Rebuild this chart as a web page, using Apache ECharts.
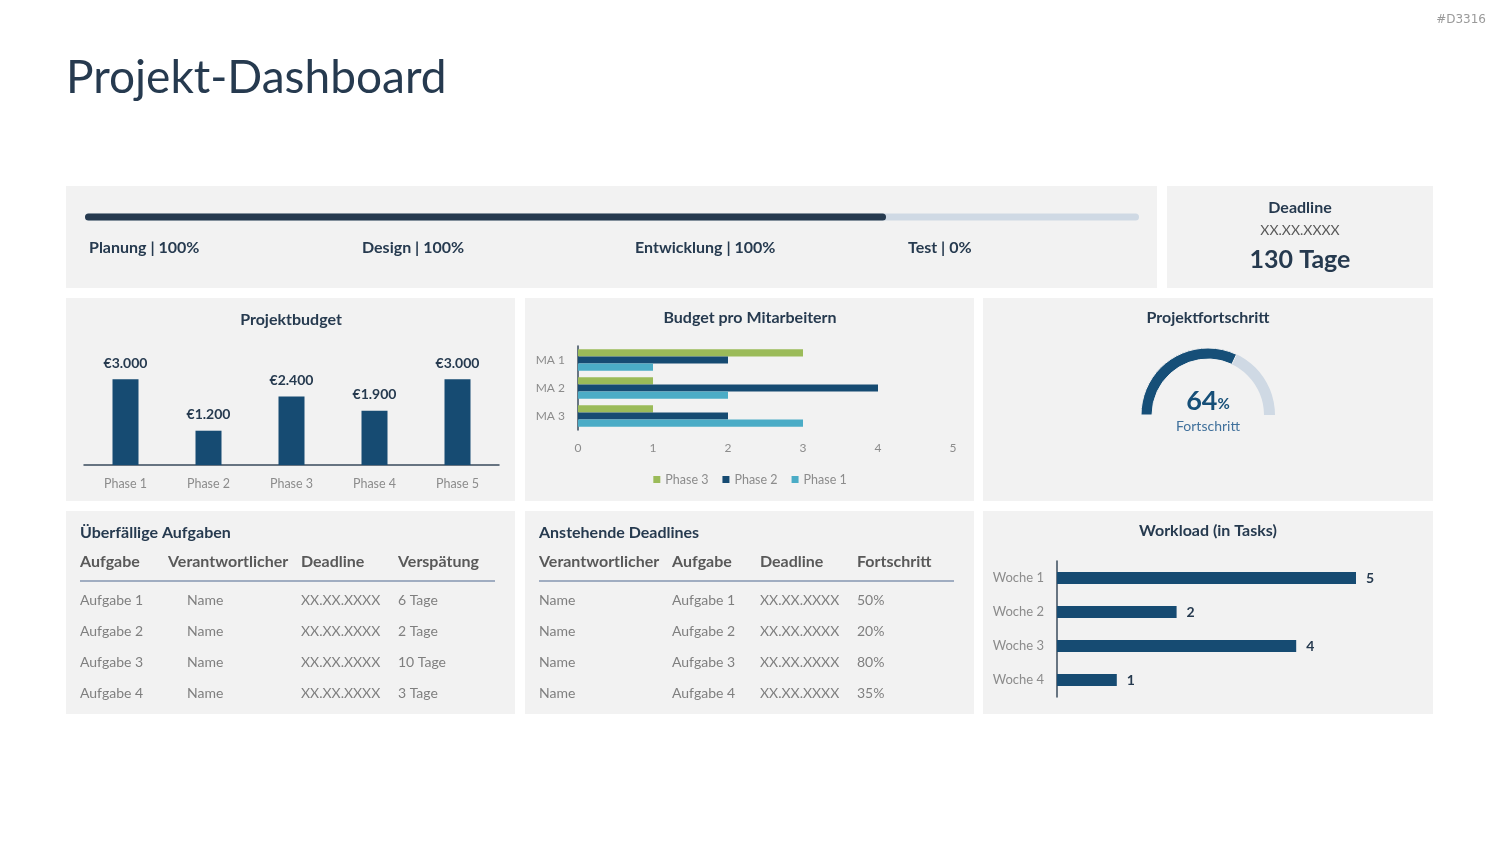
<!DOCTYPE html>
<html>
<head>
<meta charset="utf-8">
<script src="https://cdn.jsdelivr.net/npm/echarts@6/dist/echarts.min.js"></script>
<style>
  html, body { margin: 0; padding: 0; background: #ffffff; }
  #main { width: 1500px; height: 844px; }
</style>
</head>
<body>
<div id="main"></div>
<script>
// ---- data ----
var phaseNames = ['Planung', 'Design', 'Entwicklung', 'Test'];
var phasePercents = [100, 100, 100, 0];
var overallProgress = [76];

var deadlineDate = 'XX.XX.XXXX';
var daysLeft = 130;

var budgetPhases = ['Phase 1', 'Phase 2', 'Phase 3', 'Phase 4', 'Phase 5'];
var budgetValues = [3000, 1200, 2400, 1900, 3000];

var staff = ['MA 1', 'MA 2', 'MA 3'];
var staffPhase3 = [3, 1, 1];
var staffPhase2 = [2, 4, 2];
var staffPhase1 = [1, 2, 3];

var progressValue = 64;

var overdueHeader = ['Aufgabe', 'Verantwortlicher', 'Deadline', 'Verspätung'];
var overdueTasks = ['Aufgabe 1', 'Aufgabe 2', 'Aufgabe 3', 'Aufgabe 4'];
var overdueOwners = ['Name', 'Name', 'Name', 'Name'];
var overdueDeadlines = ['XX.XX.XXXX', 'XX.XX.XXXX', 'XX.XX.XXXX', 'XX.XX.XXXX'];
var overdueDelays = ['6 Tage', '2 Tage', '10 Tage', '3 Tage'];

var upcomingHeader = ['Verantwortlicher', 'Aufgabe', 'Deadline', 'Fortschritt'];
var upcomingOwners = ['Name', 'Name', 'Name', 'Name'];
var upcomingTasks = ['Aufgabe 1', 'Aufgabe 2', 'Aufgabe 3', 'Aufgabe 4'];
var upcomingDeadlines = ['XX.XX.XXXX', 'XX.XX.XXXX', 'XX.XX.XXXX', 'XX.XX.XXXX'];
var upcomingProgress = ['50%', '20%', '80%', '35%'];

var weeks = ['Woche 1', 'Woche 2', 'Woche 3', 'Woche 4'];
var weekTasks = [5, 2, 4, 1];

// ---- style ----
var FONT = 'Lato, "Open Sans", sans-serif';
var DARK = '#263a4f';
var NAVY = '#164b72';
var GREY = '#8c8c8c';
var HEAD = '#595959';
var PANEL = '#f2f2f2';

function txt(x, y, text, size, weight, color, align) {
    return {
        type: 'text', x: x, y: y, silent: true,
        style: {
            text: text, fill: color, align: align || 'left', verticalAlign: 'middle',
            font: (weight || 'normal') + ' ' + size + 'px ' + FONT
        }
    };
}
function panel(x, y, w, h) {
    return { type: 'rect', shape: { x: x, y: y, width: w, height: h }, style: { fill: PANEL }, silent: true, z: -10 };
}
function fmtEuro(v) {
    return '€' + String(v).replace(/\B(?=(\d{3})+(?!\d))/g, '.');
}

var g = [];
// panels
g.push(panel(66, 186, 1091, 102));
g.push(panel(1167, 186, 266, 102));
g.push(panel(66, 298, 449, 203));
g.push(panel(525, 298, 449, 203));
g.push(panel(983, 298, 450, 203));
g.push(panel(66, 511, 449, 203));
g.push(panel(525, 511, 449, 203));
g.push(panel(983, 511, 450, 203));

// heading + tag
g.push(txt(66, 78, 'Projekt-Dashboard', 46, 'normal', DARK));
g.push({ type: 'text', x: 1486, y: 20, silent: true,
    style: { text: '#D3316', fill: '#9a9a9a', align: 'right', verticalAlign: 'middle', font: '12px "DejaVu Sans", sans-serif' } });

// phase labels
phaseNames.forEach(function (n, i) {
    g.push(txt(89 + i * 273, 248, n + ' | ' + phasePercents[i] + '%', 16, 'bold', DARK));
});

// deadline box
g.push(txt(1300, 208, 'Deadline', 16, 'bold', DARK, 'center'));
g.push(txt(1300, 230, deadlineDate, 14, 'normal', HEAD, 'center'));
g.push(txt(1300, 260, daysLeft + ' Tage', 25, 'bold', DARK, 'center'));

// panel titles
g.push(txt(291, 320, 'Projektbudget', 16, 'bold', DARK, 'center'));
g.push(txt(750, 318, 'Budget pro Mitarbeitern', 16, 'bold', DARK, 'center'));
g.push(txt(1208, 318, 'Projektfortschritt', 16, 'bold', DARK, 'center'));
g.push(txt(1208, 531, 'Workload (in Tasks)', 16, 'bold', DARK, 'center'));

// tables
function table(x0, cols, title, header, columns) {
    g.push(txt(x0, 533, title, 16, 'bold', DARK));
    header.forEach(function (h, i) {
        g.push(txt(cols[i].h, 562, h, 16, 'bold', HEAD));
    });
    g.push({ type: 'line', silent: true, shape: { x1: x0, y1: 581, x2: x0 + 415, y2: 581 },
        style: { stroke: '#8496b0', lineWidth: 1.5 } });
    columns.forEach(function (col, c) {
        col.forEach(function (v, r) {
            g.push(txt(cols[c].d, 600 + r * 31, v, 14, 'normal', '#7f7f7f'));
        });
    });
}
table(80, [{ h: 80, d: 80 }, { h: 168, d: 187 }, { h: 301, d: 301 }, { h: 398, d: 398 }],
    'Überfällige Aufgaben', overdueHeader, [overdueTasks, overdueOwners, overdueDeadlines, overdueDelays]);
table(539, [{ h: 539, d: 539 }, { h: 672, d: 672 }, { h: 760, d: 760 }, { h: 857, d: 857 }],
    'Anstehende Deadlines', upcomingHeader, [upcomingOwners, upcomingTasks, upcomingDeadlines, upcomingProgress]);

var axisLabelGrey = { color: GREY, fontFamily: FONT, fontSize: 12 };

var option = {
    backgroundColor: '#ffffff',
    animation: false,
    textStyle: { fontFamily: FONT },
    graphic: g,
    grid: [
        { left: 85, top: 213, width: 1054, height: 8, outerBoundsMode: 'none' },
        { left: 84, top: 365, width: 415, height: 100, outerBoundsMode: 'none' },
        { left: 578, top: 346, width: 375, height: 84, outerBoundsMode: 'none' },
        { left: 1057, top: 561, width: 299, height: 136, outerBoundsMode: 'none' }
    ],
    legend: {
        data: ['Phase 3', 'Phase 2', 'Phase 1'],
        left: 'center', top: 468, orient: 'horizontal',
        itemWidth: 7, itemHeight: 7, itemGap: 14, icon: 'rect',
        textStyle: { color: GREY, fontSize: 12.5, fontFamily: FONT },
        selectedMode: false
    },
    xAxis: [
        { gridIndex: 0, type: 'value', min: 0, max: 100, show: false },
        { gridIndex: 1, type: 'category', data: budgetPhases,
          axisLine: { lineStyle: { color: '#3a4b5c', width: 1.5 } }, axisTick: { show: false },
          axisLabel: Object.assign({ margin: 12 }, axisLabelGrey, { fontSize: 12.5 }) },
        { gridIndex: 2, type: 'value', min: 0, max: 5, interval: 1,
          axisLine: { show: false }, axisTick: { show: false }, splitLine: { show: false },
          axisLabel: Object.assign({ margin: 12 }, axisLabelGrey) },
        { gridIndex: 3, type: 'value', min: 0, max: 5, show: false }
    ],
    yAxis: [
        { gridIndex: 0, type: 'category', data: ['Gesamt'], show: false },
        { gridIndex: 1, type: 'value', min: 0, max: 3500, show: false },
        { gridIndex: 2, type: 'category', data: staff, inverse: true,
          axisLine: { lineStyle: { color: '#3a4b5c', width: 1.5 } }, axisTick: { show: false },
          axisLabel: Object.assign({ margin: 13 }, axisLabelGrey) },
        { gridIndex: 3, type: 'category', data: weeks, inverse: true,
          axisLine: { lineStyle: { color: '#3a4b5c', width: 1.5 } }, axisTick: { show: false },
          axisLabel: Object.assign({ margin: 13 }, axisLabelGrey, { fontSize: 13 }) }
    ],
    series: [
        { type: 'bar', xAxisIndex: 0, yAxisIndex: 0, data: overallProgress, barWidth: 7,
          itemStyle: { color: '#263a4f', borderRadius: 4 },
          showBackground: true, backgroundStyle: { color: '#cfd9e4', borderRadius: 4 } },
        { type: 'bar', xAxisIndex: 1, yAxisIndex: 1, data: budgetValues, barWidth: 26,
          itemStyle: { color: NAVY },
          label: { show: true, position: 'top', distance: 9, color: DARK, fontWeight: 'bold', fontSize: 14,
                   fontFamily: FONT, formatter: function (p) { return fmtEuro(p.value); } } },
        { name: 'Phase 3', type: 'bar', xAxisIndex: 2, yAxisIndex: 2, data: staffPhase3,
          barGap: '0%', barCategoryGap: '24%', itemStyle: { color: '#9bbb59' } },
        { name: 'Phase 2', type: 'bar', xAxisIndex: 2, yAxisIndex: 2, data: staffPhase2,
          barGap: '0%', barCategoryGap: '24%', itemStyle: { color: NAVY } },
        { name: 'Phase 1', type: 'bar', xAxisIndex: 2, yAxisIndex: 2, data: staffPhase1,
          barGap: '0%', barCategoryGap: '24%', itemStyle: { color: '#4bacc6' } },
        { type: 'bar', xAxisIndex: 3, yAxisIndex: 3, data: weekTasks, barWidth: 12,
          itemStyle: { color: NAVY },
          label: { show: true, position: 'right', distance: 10, color: DARK, fontWeight: 'bold',
                   fontSize: 14, fontFamily: FONT } },
        { type: 'gauge', center: [1208, 415], radius: 67, startAngle: 180, endAngle: 0,
          min: 0, max: 100,
          progress: { show: true, width: 11, itemStyle: { color: '#164f78', borderColor: '#f2f2f2', borderWidth: 1 } },
          axisLine: { lineStyle: { width: 11, color: [[1, '#cfd9e4']] } },
          pointer: { show: false }, axisTick: { show: false }, splitLine: { show: false },
          axisLabel: { show: false }, anchor: { show: false },
          title: { offsetCenter: [0, 11], color: '#41719c', fontSize: 14, fontFamily: FONT },
          detail: { offsetCenter: [0, -14], formatter: '{v|{value}}{p|%}',
                    rich: { v: { fontSize: 27, fontWeight: 'bold', color: '#164f78', fontFamily: FONT },
                            p: { fontSize: 15, fontWeight: 'bold', color: '#164f78', fontFamily: FONT, padding: [6, 0, 0, 0] } } },
          data: [{ value: progressValue, name: 'Fortschritt' }] }
    ]
};

var chart = echarts.init(document.getElementById('main'), null, { renderer: 'canvas' });
chart.setOption(option);
</script>
</body>
</html>
